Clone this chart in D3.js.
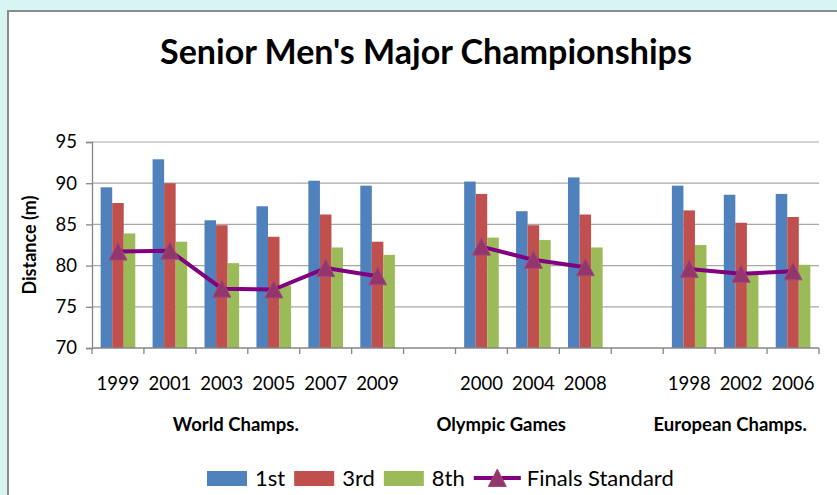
<!DOCTYPE html>
<html>
<head>
<meta charset="utf-8">
<script src="https://cdn.jsdelivr.net/npm/d3@7"></script>
<style>
  html, body { margin: 0; padding: 0; background: #d6f5f3; }
  svg { display: block; }
  text { font-family: Lato, "Open Sans", sans-serif; fill: #000; }
</style>
</head>
<body>
<svg id="chart" width="837" height="495"></svg>
<script>
// ---------------- DATA ----------------
const categories = ["1999","2001","2003","2005","2007","2009","","2000","2004","2008","","1998","2002","2006"];
const first  = [89.5, 92.9, 85.5, 87.2, 90.3, 89.7, null, 90.2, 86.6, 90.7, null, 89.7, 88.6, 88.7];
const third  = [87.6, 90.0, 84.9, 83.5, 86.2, 82.9, null, 88.7, 84.9, 86.2, null, 86.7, 85.2, 85.9];
const eighth = [83.9, 82.9, 80.3, 77.6, 82.2, 81.3, null, 83.4, 83.1, 82.2, null, 82.5, 78.9, 80.1];
const finalsStandard = [81.7, 81.8, 77.2, 77.1, 79.7, 78.7, null, 82.3, 80.7, 79.8, null, 79.6, 79.0, 79.3];
const groupNames = ["World Champs.", "Olympic Games", "European Champs."];
const yTicks = [70, 75, 80, 85, 90, 95];
const seriesNames = ["1st", "3rd", "8th"];
const lineName = "Finals Standard";
const chartTitle = "Senior Men's Major Championships";
const yTitle = "Distance (m)";

// ---------------- LAYOUT / STYLE ----------------
const colors = ["#4f81bd", "#c0504d", "#9bbb59"];
const lineColor = "#800080";
const markerFill = "#93366c";
const plot = { left: 92, right: 819, top: 142, bottom: 348 };
// horizontal centre of each group label, in category units
const groupLabelCenter = [2.77, 7.88, 12.29];

const svg = d3.select("#chart");

// chart area
svg.append("rect")
  .attr("x", 8).attr("y", 11).attr("width", 900).attr("height", 600)
  .attr("fill", "#fff").attr("stroke", "#8c8c8c").attr("stroke-width", 2);

// title
const title = svg.append("text")
  .attr("x", 426).attr("y", 64).attr("text-anchor", "middle")
  .style("font-weight", "bold").style("font-size", "28px")
  .text(chartTitle);
{
  const w = title.node().getComputedTextLength();
  title.style("font-size", (28 * 532 / w) + "px");
}

// scales
const idx = d3.range(categories.length);
const x0 = d3.scaleBand().domain(idx).range([plot.left, plot.right]).padding(0);
const x1 = d3.scaleBand().domain(d3.range(seriesNames.length))
  .range([0, x0.bandwidth()]).paddingInner(0).paddingOuter(0.75);
const y = d3.scaleLinear().domain([70, 95]).range([plot.bottom, plot.top]);

// gridlines
svg.append("g").selectAll("line")
  .data(yTicks.filter(t => t > 70)).join("line")
  .attr("x1", plot.left).attr("x2", plot.right)
  .attr("y1", d => y(d)).attr("y2", d => y(d))
  .attr("stroke", "#a8a8a8").attr("stroke-width", 1.2);

// y axis
const yAxis = svg.append("g").attr("transform", `translate(${plot.left},0)`)
  .call(d3.axisLeft(y).tickValues(yTicks).tickSize(6).tickPadding(9));
yAxis.select(".domain").attr("stroke", "#868686").attr("stroke-width", 1.3);
yAxis.selectAll(".tick line").attr("stroke", "#868686").attr("stroke-width", 1.3);
yAxis.selectAll(".tick text").style("font-size", "18.5px").style("font-family", "Lato, 'Open Sans', sans-serif").attr("fill", "#000");

// bars
const seriesData = [first, third, eighth];
seriesData.forEach((vals, s) => {
  svg.append("g").selectAll("rect")
    .data(vals.map((v, i) => ({ i, v })).filter(d => d.v != null))
    .join("rect")
    .attr("x", d => x0(d.i) + x1(s))
    .attr("width", x1.bandwidth())
    .attr("y", d => y(d.v))
    .attr("height", d => y(70) - y(d.v))
    .attr("fill", colors[s]);
});

// x axis
const xAxisG = svg.append("g").attr("transform", `translate(0,${plot.bottom})`);
xAxisG.append("line").attr("x1", plot.left).attr("x2", plot.right)
  .attr("stroke", "#868686").attr("stroke-width", 1.3);
xAxisG.selectAll("line.tk")
  .data(d3.range(categories.length + 1)).join("line").attr("class", "tk")
  .attr("x1", d => plot.left + d * x0.step()).attr("x2", d => plot.left + d * x0.step())
  .attr("y1", 0).attr("y2", 6)
  .attr("stroke", "#868686").attr("stroke-width", 1.3);

// category labels
svg.append("g").selectAll("text")
  .data(idx).join("text")
  .attr("x", d => x0(d) + x0.bandwidth() / 2)
  .attr("y", 390)
  .attr("text-anchor", "middle")
  .style("font-size", "18.5px")
  .text(d => categories[d]);

// group labels
svg.append("g").selectAll("text")
  .data(groupNames).join("text")
  .attr("x", (d, i) => plot.left + groupLabelCenter[i] * x0.step())
  .attr("y", 431)
  .attr("text-anchor", "middle")
  .style("font-size", "18.5px").style("font-weight", "bold")
  .text(d => d);

// y title
svg.append("text")
  .attr("transform", "translate(36,245) rotate(-90)")
  .attr("text-anchor", "middle")
  .style("font-size", "18px").style("font-weight", "bold")
  .text(yTitle);

// finals line
const pts = finalsStandard.map((v, i) => ({ i, v }));
const line = d3.line()
  .defined(d => d.v != null)
  .x(d => x0(d.i) + x0.bandwidth() / 2)
  .y(d => y(d.v));
svg.append("path").datum(pts).attr("d", line)
  .attr("fill", "none").attr("stroke", lineColor).attr("stroke-width", 4)
  .attr("stroke-linejoin", "round");

const triPath = "M0,-9L9,8.5L-9,8.5Z";
svg.append("g").selectAll("path")
  .data(pts.filter(d => d.v != null)).join("path")
  .attr("transform", d => `translate(${x0(d.i) + x0.bandwidth() / 2},${y(d.v)})`)
  .attr("d", triPath)
  .attr("fill", markerFill).attr("stroke", "#a34a7c").attr("stroke-width", 1);

// legend
const legend = svg.append("g");
let lx = 207;
const ly = 478;
seriesNames.forEach((name, s) => {
  legend.append("rect").attr("x", lx).attr("y", ly - 7).attr("width", 40).attr("height", 15)
    .attr("fill", colors[s]);
  lx += 48;
  const t = legend.append("text").attr("x", lx).attr("y", ly + 8)
    .style("font-size", "22px").text(name);
  lx += t.node().getComputedTextLength() + 9;
});
legend.append("line").attr("x1", lx).attr("x2", lx + 47).attr("y1", ly).attr("y2", ly)
  .attr("stroke", lineColor).attr("stroke-width", 4);
legend.append("path").attr("transform", `translate(${lx + 23.5},${ly})`).attr("d", triPath)
  .attr("fill", markerFill).attr("stroke", "#a34a7c").attr("stroke-width", 1);
lx += 53;
legend.append("text").attr("x", lx).attr("y", ly + 8)
  .style("font-size", "22px").text(lineName);
</script>
</body>
</html>
